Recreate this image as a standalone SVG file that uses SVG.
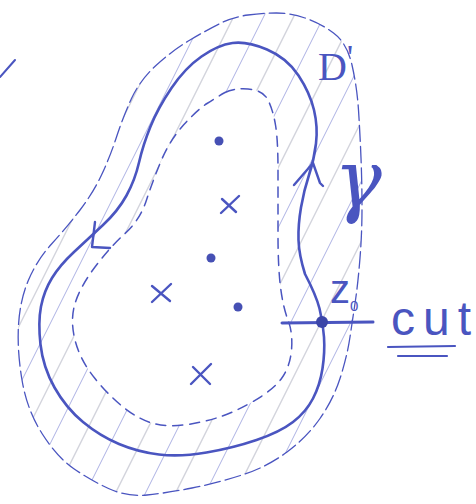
<svg xmlns="http://www.w3.org/2000/svg" width="476" height="504" viewBox="0 0 476 504">
<style>
.ink{fill:none;stroke:#4a55c0;stroke-linecap:round;stroke-linejoin:round}
.main{stroke-width:2.6}
.dash{stroke-width:1.5;stroke-dasharray:10 7}
.outer{stroke-width:1.3;stroke-dasharray:16 5}
.hatch{stroke:#8a92d8;stroke-width:1;opacity:.7}
.hatch2{stroke:#c9cad4;stroke-width:1.4;opacity:.8}
.dot{fill:#4650b4}
.lbl{fill:#4a55c0}
</style>
<defs>
<clipPath id="band">
<path clip-rule="evenodd" d="M 248,15 Q 263,13 276.5,13 Q 290,13 305,18 Q 320,23 333.5,33 Q 347,43 352,65 Q 357,87 358.5,110 Q 360,133 361,158 Q 362,183 362,208 Q 362,233 360,258 Q 358,283 355.5,300 Q 353,317 350,337 Q 347,357 340,378.5 Q 333,400 320,418.5 Q 307,437 287,452 Q 267,467 242,475 Q 217,483 192,488 Q 167,493 147,495 Q 127,497 108.5,488.5 Q 90,480 73.5,468.5 Q 57,457 42,433.5 Q 27,410 22,380 Q 17,350 18.5,325 Q 20,300 28.5,280 Q 37,260 52,243.5 Q 67,227 80,210 Q 93,193 101.5,175 Q 110,157 116.5,137 Q 123,117 131.5,98.5 Q 140,80 156.5,65 Q 173,50 190,40 Q 207,30 220,23.5 Q 233,17 248,15 Z M 225,92.5 Q 233,88 248,89 Q 263,90 268,100 Q 273,110 275.5,125 Q 278,140 278,170 Q 278,200 278,233.5 Q 278,267 280.5,287 Q 283,307 288,320 Q 293,333 291.5,350 Q 290,367 281.5,378.5 Q 273,390 253,401.5 Q 233,413 216.5,418 Q 200,423 183.5,425 Q 167,427 153.5,423.5 Q 140,420 125,408.5 Q 110,397 95,378.5 Q 80,360 75,340 Q 70,320 75,303.5 Q 80,287 95,267 Q 110,247 125,233.5 Q 140,220 146.5,200 Q 153,180 161.5,160 Q 170,140 183.5,125 Q 197,110 207,103.5 Q 217,97 225,92.5 Z"/>
</clipPath>
</defs>

<g id="hatching" clip-path="url(#band)">
<path class="hatch" d="M -220,504 L 32,0 M -160,504 L 92,0 M -100,504 L 152,0 M -40,504 L 212,0 M 20,504 L 272,0 M 80,504 L 332,0 M 140,504 L 392,0 M 200,504 L 452,0 M 260,504 L 512,0"/>
<path class="hatch2" d="M -190,504 L 62,0 M -130,504 L 122,0 M -70,504 L 182,0 M -10,504 L 242,0 M 50,504 L 302,0 M 110,504 L 362,0 M 170,504 L 422,0 M 230,504 L 482,0"/>
</g>

<g id="outer-boundary">
<path class="ink outer" d="M 248,15 Q 263,13 276.5,13 Q 290,13 305,18 Q 320,23 333.5,33 Q 347,43 352,65 Q 357,87 358.5,110 Q 360,133 361,158 Q 362,183 362,208 Q 362,233 360,258 Q 358,283 355.5,300 Q 353,317 350,337 Q 347,357 340,378.5 Q 333,400 320,418.5 Q 307,437 287,452 Q 267,467 242,475 Q 217,483 192,488 Q 167,493 147,495 Q 127,497 108.5,488.5 Q 90,480 73.5,468.5 Q 57,457 42,433.5 Q 27,410 22,380 Q 17,350 18.5,325 Q 20,300 28.5,280 Q 37,260 52,243.5 Q 67,227 80,210 Q 93,193 101.5,175 Q 110,157 116.5,137 Q 123,117 131.5,98.5 Q 140,80 156.5,65 Q 173,50 190,40 Q 207,30 220,23.5 Q 233,17 248,15 Z"/>
</g>

<g id="inner-boundary">
<path class="ink dash" d="M 225,92.5 Q 233,88 248,89 Q 263,90 268,100 Q 273,110 275.5,125 Q 278,140 278,170 Q 278,200 278,233.5 Q 278,267 280.5,287 Q 283,307 288,320 Q 293,333 291.5,350 Q 290,367 281.5,378.5 Q 273,390 253,401.5 Q 233,413 216.5,418 Q 200,423 183.5,425 Q 167,427 153.5,423.5 Q 140,420 125,408.5 Q 110,397 95,378.5 Q 80,360 75,340 Q 70,320 75,303.5 Q 80,287 95,267 Q 110,247 125,233.5 Q 140,220 146.5,200 Q 153,180 161.5,160 Q 170,140 183.5,125 Q 197,110 207,103.5 Q 217,97 225,92.5 Z"/>
</g>

<g id="contour-gamma">
<path class="ink main" d="M 232.5,43 Q 247,41 267,49.5 Q 287,58 298.5,75.5 Q 310,93 314,110 Q 318,127 316,143.5 Q 314,160 309,175 Q 304,190 301,207.5 Q 298,225 298.5,240 Q 299,255 305,274 Q 316,295 319.5,308.5 Q 323,322 324,337 Q 325,352 322.5,368.5 Q 320,385 313,398.5 Q 306,412 293,422 Q 280,432 256.5,440 Q 233,448 206.5,452.5 Q 180,457 159,454.5 Q 138,452 119,444 Q 100,436 83,422 Q 66,408 54.5,387.5 Q 43,367 40.5,344.5 Q 38,322 41,306.5 Q 44,291 52,278 Q 60,265 74,252 Q 88,239 103,225 Q 118,211 126.5,195.5 Q 135,180 139,162.5 Q 143,145 150.5,126.5 Q 158,108 171.5,88 Q 185,68 201.5,56.5 Q 218,45 232.5,43 Z"/>
<polyline class="ink" stroke-width="2.4" points="294,185 313,163 320,183 323,186"/>
<polyline class="ink" stroke-width="2.4" points="95,222 92,247 110,248"/>
</g>

<g id="points">
<circle class="dot" cx="219" cy="141" r="4.5"/>
<circle class="dot" cx="211" cy="258" r="4.5"/>
<circle class="dot" cx="238" cy="307" r="4.5"/>
<path class="ink" stroke-width="2.4" d="M 221,213 L 239,196 M 222,199 L 236,212"/>
<path class="ink" stroke-width="2.4" d="M 152,302 L 171,284 M 152,286 L 170,301"/>
<path class="ink" stroke-width="2.4" d="M 191,384 L 211,364 M 193,367 L 210,384"/>
</g>

<g id="cut">
<line class="ink" stroke-width="3" x1="282" y1="323" x2="373" y2="322"/>
<circle cx="322" cy="322" r="6" fill="#3c46a8"/>
</g>

<g id="labels" font-family="Liberation Sans, Arial, sans-serif">
<path class="ink" stroke-width="2" d="M 0,77 L 15,60"/>
<text class="lbl" x="318" y="80" font-family="Liberation Serif, serif" font-size="40">D<tspan dy="-12" font-size="34">'</tspan></text>
<text class="lbl" x="334" y="207" font-family="DejaVu Serif, serif" font-style="italic" font-size="80">γ</text>
<text class="lbl" x="330" y="303" font-size="40">z<tspan dy="8" font-size="15">0</tspan></text>
<text class="lbl" x="391" y="335" font-size="48" textLength="80" lengthAdjust="spacing">cut</text>
<line class="ink" stroke-width="2.2" x1="388" y1="347" x2="455" y2="346"/>
<line class="ink" stroke-width="2.2" x1="398" y1="356" x2="447" y2="356"/>
</g>
</svg>
